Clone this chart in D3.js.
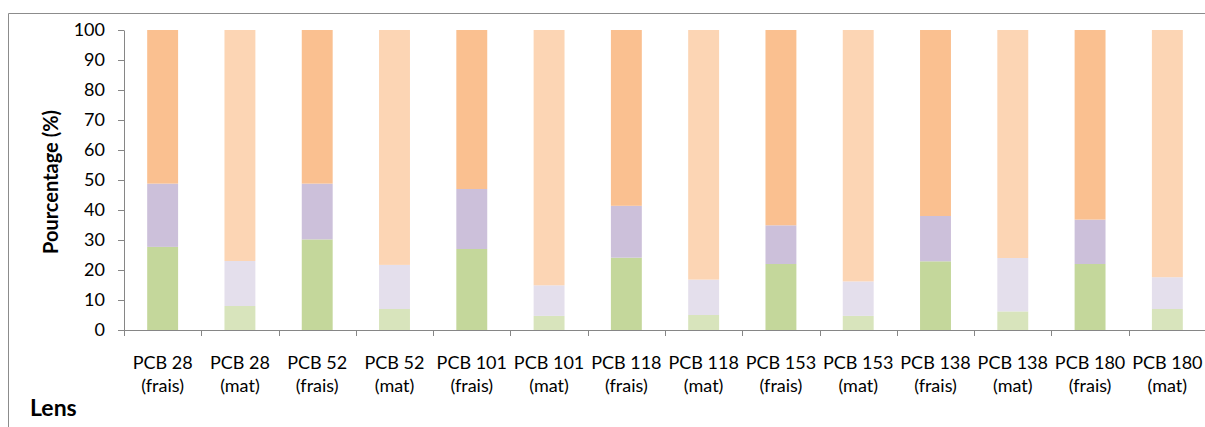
<!DOCTYPE html>
<html>
<head>
<meta charset="utf-8">
<script src="https://cdn.jsdelivr.net/npm/d3@7/dist/d3.min.js"></script>
<style>
  html, body { margin: 0; padding: 0; background: #fff; }
  svg { display: block; font-family: Lato, "Open Sans", sans-serif; }
</style>
</head>
<body>
<svg id="chart" width="1205" height="427"></svg>
<script>
// Congener / sample categories (fresh vs. matured)
const categories = [
  "PCB 28 (frais)", "PCB 28 (mat)", "PCB 52 (frais)", "PCB 52 (mat)",
  "PCB 101 (frais)", "PCB 101 (mat)", "PCB 118 (frais)", "PCB 118 (mat)",
  "PCB 153 (frais)", "PCB 153 (mat)", "PCB 138 (frais)", "PCB 138 (mat)",
  "PCB 180 (frais)", "PCB 180 (mat)"
];

// Stacked shares (%) per category, bottom to top
const part1 = [27.7, 8.0, 30.2, 7.0, 27.0, 4.7, 24.1, 5.0, 22.0, 4.7, 22.9, 6.2, 22.0, 7.0];
const part2 = [21.1, 15.0, 18.6, 14.7, 20.0, 10.2, 17.3, 11.8, 12.9, 11.5, 15.1, 17.8, 14.8, 10.6];
const part3 = [51.2, 77.0, 51.2, 78.3, 53.0, 85.1, 58.6, 83.2, 65.1, 83.8, 62.0, 76.0, 63.2, 82.4];

const yTicks = [0, 10, 20, 30, 40, 50, 60, 70, 80, 90, 100];

// Fills: stronger tints for fresh samples, paler ones for matured samples
const fillFrais = ["#c4d79b", "#ccc0da", "#fac090"];
const fillMat   = ["#d8e4bc", "#e4dfec", "#fcd5b4"];

const svg = d3.select("#chart");
const axisColor = "#868686";

// Outer chart frame (runs off the right and bottom edges)
svg.append("path")
  .attr("d", "M8.5,427 L8.5,13.5 L1205,13.5")
  .attr("fill", "none")
  .attr("stroke", "#8c8c8c")
  .attr("stroke-width", 1);

const x = d3.scaleBand().domain(categories).range([124, 1206]).padding(0);
const y = d3.scaleLinear().domain([0, 100]).range([330, 30]);

const rows = categories.map((c, i) => ({ cat: c, part1: part1[i], part2: part2[i], part3: part3[i] }));
const stack = d3.stack().keys(["part1", "part2", "part3"]);
const layers = stack(rows);

const barW = x.bandwidth() / 2.5;

layers.forEach((layer, li) => {
  svg.append("g").selectAll("rect")
    .data(layer)
    .join("rect")
    .attr("x", d => x(d.data.cat) + (x.bandwidth() - barW) / 2)
    .attr("width", barW)
    .attr("y", d => y(d[1]))
    .attr("height", d => y(d[0]) - y(d[1]))
    .attr("fill", d => (d.data.cat.includes("frais") ? fillFrais : fillMat)[li]);
});

// Y axis
const yAxis = svg.append("g")
  .attr("transform", "translate(124,0)")
  .call(d3.axisLeft(y).tickValues(yTicks).tickSize(6).tickPadding(13).tickSizeOuter(0));
yAxis.select(".domain").attr("stroke", axisColor);
yAxis.selectAll(".tick line").attr("stroke", axisColor);
yAxis.selectAll(".tick text")
  .attr("font-family", "Lato, sans-serif")
  .attr("font-size", 18)
  .attr("fill", "#000");

// X axis line and boundary ticks
svg.append("line")
  .attr("x1", 124).attr("x2", 1205)
  .attr("y1", y(0) + 0.5).attr("y2", y(0) + 0.5)
  .attr("stroke", axisColor);
svg.append("g").selectAll("line")
  .data(categories)
  .join("line")
  .attr("x1", d => Math.round(x(d)) + 0.5)
  .attr("x2", d => Math.round(x(d)) + 0.5)
  .attr("y1", y(0))
  .attr("y2", y(0) + 6)
  .attr("stroke", axisColor);

// Category labels on two lines
const labels = svg.append("g")
  .attr("font-family", "Lato, sans-serif")
  .attr("font-size", 18)
  .attr("fill", "#000")
  .attr("text-anchor", "middle");
labels.selectAll("text")
  .data(categories)
  .join("text")
  .attr("x", d => x(d) + x.bandwidth() / 2)
  .attr("y", 369)
  .each(function (d) {
    const k = d.indexOf(" (");
    const t = d3.select(this);
    t.append("tspan").attr("x", x(d) + x.bandwidth() / 2).text(d.slice(0, k));
    t.append("tspan").attr("x", x(d) + x.bandwidth() / 2).attr("dy", 23).text(d.slice(k + 1));
  });

// Y axis title
svg.append("text")
  .attr("transform", "translate(50,182) rotate(-90)")
  .attr("text-anchor", "middle")
  .attr("dominant-baseline", "central")
  .attr("font-family", "Lato, sans-serif")
  .attr("font-weight", "bold")
  .attr("font-size", 20)
  .attr("fill", "#000")
  .text("Pourcentage (%)");

// Panel title
svg.append("text")
  .attr("x", 30)
  .attr("y", 416)
  .attr("font-family", "Lato, sans-serif")
  .attr("font-weight", "bold")
  .attr("font-size", 23)
  .attr("fill", "#000")
  .text("Lens");
</script>
</body>
</html>
